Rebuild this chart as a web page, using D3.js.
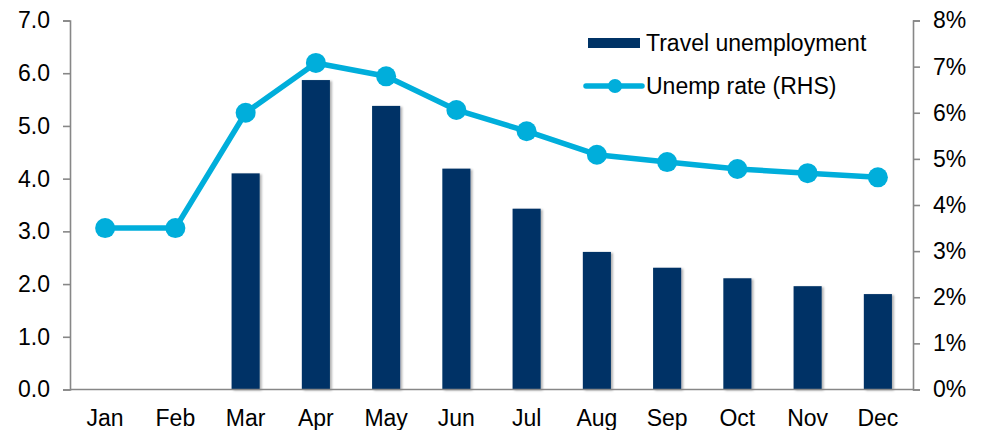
<!DOCTYPE html>
<html><head><meta charset="utf-8">
<script src="https://cdn.jsdelivr.net/npm/d3@7"></script>
<style>
body{margin:0;background:#fff;}
svg text{font-family:"Liberation Sans",Arial,sans-serif;fill:#000;}
</style></head>
<body>
<svg id="c" width="984" height="430"></svg>
<script>
const months = ["Jan","Feb","Mar","Apr","May","Jun","Jul","Aug","Sep","Oct","Nov","Dec"];
const travelUnemployment = [null,null,4.1,5.87,5.38,4.19,3.43,2.61,2.31,2.11,1.96,1.81];
const unempRate = [3.5,3.5,6.0,7.08,6.79,6.06,5.6,5.09,4.93,4.78,4.69,4.6];
const leftTicks = [0,1,2,3,4,5,6,7];
const rightTicks = [0,1,2,3,4,5,6,7,8];
const legendLabels = ["Travel unemployment","Unemp rate (RHS)"];

const svg = d3.select("#c");
const L = 70, R = 913, T = 20.5, B = 389.5;
const barColor = "#003366", lineColor = "#00AEDB", axisColor = "#878787";
const fs = 23;

const defs = svg.append("defs");
const f = defs.append("filter").attr("id","sh").attr("x","-20%").attr("y","-5%").attr("width","150%").attr("height","110%");
f.append("feDropShadow").attr("dx",2).attr("dy",1).attr("stdDeviation",1.2).attr("flood-color","#000").attr("flood-opacity",0.3);

const x = d3.scaleBand().domain(months).range([L,R]).paddingInner(0.6).paddingOuter(0.3);
const yL = d3.scaleLinear().domain([0,7]).range([B,T]);
const yR = d3.scaleLinear().domain([0,8]).range([B,T]);

// bars
svg.append("g").selectAll("rect").data(months.map((m,i)=>({m,v:travelUnemployment[i]})).filter(d=>d.v!=null))
  .join("rect")
  .attr("x",d=>x(d.m)).attr("width",x.bandwidth())
  .attr("y",d=>yL(d.v)).attr("height",d=>yL(0)-yL(d.v))
  .attr("fill",barColor).attr("filter","url(#sh)");

// axes
const gl = svg.append("g").attr("transform",`translate(${L},0)`)
  .call(d3.axisLeft(yL).tickValues(leftTicks).tickFormat(d3.format(".1f")).tickSize(7).tickPadding(13));
const gr = svg.append("g").attr("transform",`translate(${R},0)`)
  .call(d3.axisRight(yR).tickValues(rightTicks).tickFormat(d=>d+"%").tickSize(7).tickPadding(13));
const gb = svg.append("g").attr("transform",`translate(0,${B})`)
  .call(d3.axisBottom(x).tickSize(0).tickPadding(20));
[gl,gr,gb].forEach(g=>{
  g.selectAll("path,line").attr("stroke",axisColor).attr("stroke-width",1.6);
  g.selectAll("text").attr("font-size",fs).attr("font-family","Liberation Sans, Arial, sans-serif").attr("fill","#000");
});
gb.select(".domain").attr("d",`M${L},0H${R}`);

// line
const cx = m => x(m)+x.bandwidth()/2;
const pts = months.map((m,i)=>({m,v:unempRate[i]}));
svg.append("path").datum(pts)
  .attr("d",d3.line().x(d=>cx(d.m)).y(d=>yR(d.v)))
  .attr("fill","none").attr("stroke",lineColor).attr("stroke-width",5.5).attr("stroke-linejoin","round");
svg.append("g").selectAll("circle").data(pts).join("circle")
  .attr("cx",d=>cx(d.m)).attr("cy",d=>yR(d.v)).attr("r",10).attr("fill",lineColor);

// legend
const lg = svg.append("g");
lg.append("rect").attr("x",588).attr("y",38).attr("width",52).attr("height",10).attr("fill",barColor);
lg.append("text").attr("x",646).attr("y",51).attr("font-size",fs).text(legendLabels[0]);
lg.append("line").attr("x1",586).attr("x2",642).attr("y1",86).attr("y2",86).attr("stroke",lineColor).attr("stroke-width",5.5).attr("stroke-linecap","round");
lg.append("circle").attr("cx",615).attr("cy",86).attr("r",7).attr("fill",lineColor);
lg.append("text").attr("x",646).attr("y",94).attr("font-size",fs).text(legendLabels[1]);
</script>
</body></html>
